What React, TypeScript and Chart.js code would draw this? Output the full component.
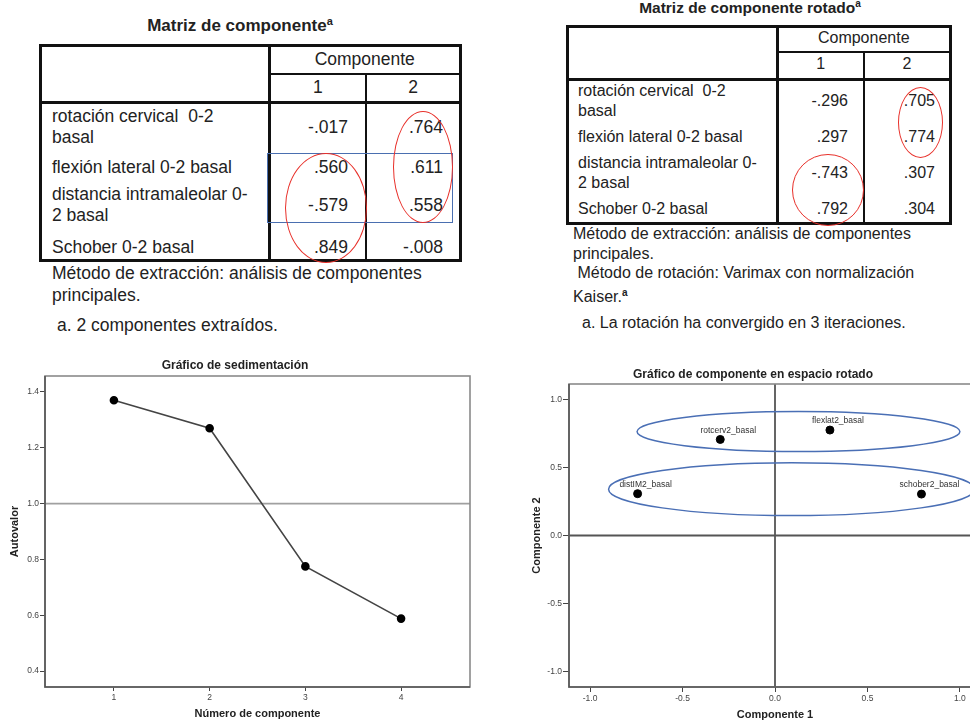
import React, { useEffect, useRef } from "react";
import { Chart, registerables } from "chart.js";

Chart.register(...registerables);

const FONT = '"Liberation Sans", Arial, Helvetica, sans-serif';

// ---------- Tables ----------
const rowLabels = [
  "rotación cervical  0-2\nbasal",
  "flexión lateral 0-2 basal",
  "distancia intramaleolar 0-\n2 basal",
  "Schober 0-2 basal",
];
const componentHeader = "Componente";
const componentNumbersText = ["1", "2"];
const unrotatedComp1 = ["-.017", ".560", "-.579", ".849"];
const unrotatedComp2 = [".764", ".611", ".558", "-.008"];
const rotatedComp1 = ["-.296", ".297", "-.743", ".792"];
const rotatedComp2 = [".705", ".774", ".307", ".304"];

// ---------- Scree plot ----------
const componentNumbers = [1, 2, 3, 4];
const eigenvalues = [1.37, 1.27, 0.775, 0.588];
const screeXTicks = [1, 2, 3, 4];
const screeYTicks = [0.4, 0.6, 0.8, 1.0, 1.2, 1.4];
const kaiserCriterion = 1.0;

// ---------- Rotated component plot ----------
const variableNames = ["rotcerv2_basal", "flexlat2_basal", "distIM2_basal", "schober2_basal"];
const loadingsComp1 = [-0.296, 0.297, -0.743, 0.792];
const loadingsComp2 = [0.705, 0.774, 0.307, 0.304];
const loadingTicks = [-1.0, -0.5, 0.0, 0.5, 1.0];
// hand-drawn grouping ellipses, in data units: [cx, cy, rx, ry]
const groupEllipses = [
  [0.127, 0.763, 0.873, 0.147],
  [0.09, 0.34, 0.99, 0.194],
];

type Geo = {
  left: number; top: number; right: number; bottom: number;
  col1: number; col2: number; hdr1: number; hdr2: number;
  fs: number; lh: number; labelX: number; val1R: number; val2R: number;
  rowCenters: number[]; compY: number; numY: number;
};

const abs = (s: React.CSSProperties): React.CSSProperties => ({ position: "absolute", ...s });

function Line({ x, y, w, h }: { x: number; y: number; w: number; h: number }) {
  return <div style={abs({ left: x, top: y, width: w, height: h, background: "#111" })} />;
}

function Txt({ x, y, fs, lh, text, align = "left", w, bold }: any) {
  const lines = text.split("\n").length;
  const style: React.CSSProperties = abs({
    top: y - (lines * lh) / 2,
    fontSize: fs,
    lineHeight: lh + "px",
    whiteSpace: "pre",
    color: "#222",
    fontWeight: bold ? "bold" : "normal",
  });
  if (align === "right") {
    style.right = 970 - x;
  } else if (align === "center") {
    style.left = x - w / 2;
    style.width = w;
    style.textAlign = "center";
  } else {
    style.left = x;
  }
  return <div style={style}>{text}</div>;
}

function Table({ g, v1, v2 }: { g: Geo; v1: string[]; v2: string[] }) {
  const c1 = (g.col1 + g.col2) / 2;
  const c2 = (g.col2 + g.right) / 2;
  return (
    <>
      <div
        style={abs({
          left: g.left - 1.5, top: g.top - 1.5,
          width: g.right - g.left + 3, height: g.bottom - g.top + 3,
          border: "3px solid #111", boxSizing: "border-box",
        })}
      />
      <Line x={g.col1 - 1.5} y={g.top} w={3} h={g.bottom - g.top} />
      <Line x={g.col2 - 1} y={g.hdr1} w={2} h={g.bottom - g.hdr1} />
      <Line x={g.col1} y={g.hdr1 - 1} w={g.right - g.col1} h={2} />
      <Line x={g.left} y={g.hdr2 - 1.5} w={g.right - g.left} h={3} />
      <Txt x={(g.col1 + g.right) / 2} y={g.compY} fs={g.fs} lh={g.lh} w={g.right - g.col1} align="center" text={componentHeader} />
      <Txt x={c1} y={g.numY} fs={g.fs} lh={g.lh} w={g.col2 - g.col1} align="center" text={componentNumbersText[0]} />
      <Txt x={c2} y={g.numY} fs={g.fs} lh={g.lh} w={g.right - g.col2} align="center" text={componentNumbersText[1]} />
      {rowLabels.map((lab, i) => (
        <React.Fragment key={i}>
          <Txt x={g.labelX} y={g.rowCenters[i]} fs={g.fs} lh={g.lh} text={lab} />
          <Txt x={g.val1R} y={g.rowCenters[i]} fs={g.fs} lh={g.lh} align="right" text={v1[i]} />
          <Txt x={g.val2R} y={g.rowCenters[i]} fs={g.fs} lh={g.lh} align="right" text={v2[i]} />
        </React.Fragment>
      ))}
    </>
  );
}

function Oval({ x1, y1, x2, y2, color }: any) {
  return (
    <div
      style={abs({
        left: x1, top: y1, width: x2 - x1, height: y2 - y1,
        border: `1.5px solid ${color}`, borderRadius: "50%", boxSizing: "border-box",
      })}
    />
  );
}

const leftGeo: Geo = {
  left: 40, top: 45, right: 460, bottom: 260, col1: 269.5, col2: 366, hdr1: 74, hdr2: 102,
  fs: 17.5, lh: 21, labelX: 52, val1R: 348, val2R: 443, rowCenters: [127, 167, 205, 247],
  compY: 59, numY: 87,
};
const rightGeo: Geo = {
  left: 567, top: 26, right: 950, bottom: 223, col1: 777.5, col2: 864, hdr1: 52, hdr2: 79.5,
  fs: 16, lh: 20, labelX: 578, val1R: 848, val2R: 935, rowCenters: [101, 137, 173, 209],
  compY: 38, numY: 64,
};

// ---------- chart helpers ----------
const tickFont = { family: FONT, size: 8.5 };
const axisTitleFont = { family: FONT, size: 11, weight: "bold" as const };
const titleFont = { family: FONT, size: 12, weight: "bold" as const };

const framePlugin = {
  id: "frame",
  afterDraw(chart: any) {
    const { ctx, chartArea: a } = chart;
    ctx.save();
    ctx.strokeStyle = "#8a8a8a";
    ctx.lineWidth = 1.6;
    ctx.strokeRect(a.left, a.top, a.right - a.left, a.bottom - a.top);
    ctx.strokeStyle = "#555";
    ctx.lineWidth = 1.6;
    ctx.beginPath();
    ctx.moveTo(a.left, a.top);
    ctx.lineTo(a.left, a.bottom);
    ctx.lineTo(a.right, a.bottom);
    ctx.stroke();
    ctx.restore();
  },
};

function useChart(ref: React.RefObject<HTMLCanvasElement>, makeConfig: () => any) {
  useEffect(() => {
    if (!ref.current) return;
    const chart = new Chart(ref.current, makeConfig());
    return () => chart.destroy();
  }, []);
}

function ScreePlot() {
  const ref = useRef<HTMLCanvasElement>(null);
  useChart(ref, () => ({
    type: "scatter",
    data: {
      datasets: [
        {
          data: componentNumbers.map((c, i) => ({ x: c, y: eigenvalues[i] })),
          showLine: true,
          borderColor: "#444",
          borderWidth: 1.6,
          pointRadius: 3.5,
          pointBackgroundColor: "#000",
          pointBorderColor: "#000",
        },
      ],
    },
    options: {
      animation: false,
      responsive: false,
      layout: { padding: { left: 0, right: 10, top: 0, bottom: 0 } },
      plugins: {
        legend: { display: false },
        tooltip: { enabled: false },
        title: {
          display: true,
          text: "Gráfico de sedimentación",
          font: titleFont,
          color: "#222",
          padding: { top: 3.8, bottom: 2.8 },
        },
      },
      scales: {
        x: {
          type: "linear",
          min: 0.28,
          max: 4.72,
          afterBuildTicks: (s: any) => { s.ticks = screeXTicks.map((v) => ({ value: v })); },
          afterFit: (s: any) => { s.height = 35; },
          ticks: { font: tickFont, color: "#444", padding: 2, maxRotation: 0, callback: (v: any) => String(v) },
          grid: { drawOnChartArea: false, drawTicks: true, tickLength: 4, color: "#444" },
          border: { display: false },
          title: { display: true, text: "Número de componente", font: axisTitleFont, color: "#222", padding: { top: 0, bottom: 1.4 } },
        },
        y: {
          type: "linear",
          min: 0.343,
          max: 1.457,
          afterBuildTicks: (s: any) => { s.ticks = screeYTicks.map((v) => ({ value: v })); },
          afterFit: (s: any) => { s.width = 45; },
          ticks: { font: tickFont, color: "#444", padding: 1, callback: (v: any) => Number(v).toFixed(1) },
          grid: { drawOnChartArea: false, drawTicks: true, tickLength: 5, color: "#444" },
          border: { display: false },
          title: { display: true, text: "Autovalor", font: axisTitleFont, color: "#222", padding: { top: 8.4, bottom: 0 } },
        },
      },
    },
    plugins: [
      {
        id: "kaiser",
        beforeDatasetsDraw(chart: any) {
          const { ctx, chartArea: a, scales } = chart;
          const y = scales.y.getPixelForValue(kaiserCriterion);
          ctx.save();
          ctx.strokeStyle = "#a0a0a0";
          ctx.lineWidth = 1.8;
          ctx.beginPath();
          ctx.moveTo(a.left, y);
          ctx.lineTo(a.right, y);
          ctx.stroke();
          ctx.restore();
        },
      },
      framePlugin,
    ],
  }));
  return <canvas ref={ref} width={480} height={367} style={abs({ left: 0, top: 355, display: "block" })} />;
}

function LoadingPlot() {
  const ref = useRef<HTMLCanvasElement>(null);
  useChart(ref, () => ({
    type: "scatter",
    data: {
      datasets: [
        {
          data: loadingsComp1.map((x, i) => ({ x, y: loadingsComp2[i] })),
          pointRadius: 4,
          pointBackgroundColor: "#000",
          pointBorderColor: "#000",
        },
      ],
    },
    options: {
      animation: false,
      responsive: false,
      layout: { padding: { left: 45, right: 9, top: 0, bottom: 0 } },
      plugins: {
        legend: { display: false },
        tooltip: { enabled: false },
        title: {
          display: true,
          text: "Gráfico de componente en espacio rotado",
          font: titleFont,
          color: "#222",
          padding: { top: 12.8, bottom: 1.8 },
        },
      },
      scales: {
        x: {
          type: "linear",
          min: -1.114,
          max: 1.114,
          afterBuildTicks: (s: any) => { s.ticks = loadingTicks.map((v) => ({ value: v })); },
          afterFit: (s: any) => { s.height = 35; },
          ticks: { font: tickFont, color: "#444", padding: 2, maxRotation: 0, callback: (v: any) => Number(v).toFixed(1) },
          grid: { drawOnChartArea: false, drawTicks: true, tickLength: 5, color: "#444" },
          border: { display: false },
          title: { display: true, text: "Componente 1", font: axisTitleFont, color: "#222", padding: { top: 0, bottom: 0.4 } },
        },
        y: {
          type: "linear",
          min: -1.112,
          max: 1.112,
          afterBuildTicks: (s: any) => { s.ticks = loadingTicks.map((v) => ({ value: v })); },
          afterFit: (s: any) => { s.width = 44; },
          ticks: { font: tickFont, color: "#444", padding: 1, callback: (v: any) => Number(v).toFixed(1) },
          grid: { drawOnChartArea: false, drawTicks: true, tickLength: 6, color: "#444" },
          border: { display: false },
          title: { display: true, text: "Componente 2", font: axisTitleFont, color: "#222", padding: { top: 5.4, bottom: 0 } },
        },
      },
    },
    plugins: [
      {
        id: "zeroLines",
        beforeDatasetsDraw(chart: any) {
          const { ctx, chartArea: a, scales } = chart;
          const x0 = scales.x.getPixelForValue(0);
          const y0 = scales.y.getPixelForValue(0);
          ctx.save();
          ctx.strokeStyle = "#555";
          ctx.lineWidth = 1.8;
          ctx.beginPath();
          ctx.moveTo(x0, a.top);
          ctx.lineTo(x0, a.bottom);
          ctx.moveTo(a.left, y0);
          ctx.lineTo(a.right, y0);
          ctx.stroke();
          ctx.restore();
        },
      },
      {
        id: "pointLabels",
        afterDatasetsDraw(chart: any) {
          const { ctx, scales } = chart;
          ctx.save();
          ctx.font = `8.5px ${FONT}`;
          ctx.fillStyle = "#333";
          ctx.textAlign = "center";
          ctx.textBaseline = "middle";
          variableNames.forEach((name, i) => {
            const px = scales.x.getPixelForValue(loadingsComp1[i]);
            const py = scales.y.getPixelForValue(loadingsComp2[i]);
            ctx.fillText(name, px + 8, py - 9);
          });
          ctx.restore();
        },
      },
      {
        id: "groupEllipses",
        afterDatasetsDraw(chart: any) {
          const { ctx, scales } = chart;
          ctx.save();
          ctx.strokeStyle = "#4a6fb5";
          ctx.lineWidth = 1.5;
          groupEllipses.forEach(([cx, cy, rx, ry]) => {
            const px = scales.x.getPixelForValue(cx);
            const py = scales.y.getPixelForValue(cy);
            const prx = Math.abs(scales.x.getPixelForValue(cx + rx) - px);
            const pry = Math.abs(scales.y.getPixelForValue(cy + ry) - py);
            ctx.beginPath();
            ctx.ellipse(px, py, prx, pry, 0, 0, Math.PI * 2);
            ctx.stroke();
          });
          ctx.restore();
        },
      },
      framePlugin,
    ],
  }));
  return <canvas ref={ref} width={510} height={367} style={abs({ left: 480, top: 355, display: "block" })} />;
}

export default function App() {
  return (
    <div
      style={{
        position: "fixed", left: 0, top: 0, width: 970, height: 722, overflow: "hidden",
        background: "#fff", fontFamily: FONT, color: "#222",
      }}
    >
      {/* Left table */}
      <div style={abs({ left: 40, width: 400, top: 13, textAlign: "center", fontSize: 17, fontWeight: "bold", lineHeight: "17px", whiteSpace: "nowrap" })}>
        Matriz de componente<sup style={{ fontSize: 11, verticalAlign: "6px" }}>a</sup>
      </div>
      <Table g={leftGeo} v1={unrotatedComp1} v2={unrotatedComp2} />
      <Txt x={52} y={284} fs={17.5} lh={22} text={"Método de extracción: análisis de componentes\nprincipales."} />
      <Txt x={57} y={325} fs={17.5} lh={22} text={"a. 2 componentes extraídos."} />
      <div style={abs({ left: 267, top: 153, width: 186, height: 70, border: "1.5px solid #4a6fb0", boxSizing: "border-box" })} />
      <Oval x1={285} y1={153} x2={367} y2={263} color="#e8302a" />
      <Oval x1={393} y1={111} x2={453} y2={223} color="#e8302a" />

      {/* Right table */}
      <div style={abs({ left: 550, width: 400, top: -4, textAlign: "center", fontSize: 15.5, fontWeight: "bold", lineHeight: "16px", whiteSpace: "nowrap" })}>
        Matriz de componente rotado<sup style={{ fontSize: 10, verticalAlign: "6px" }}>a</sup>
      </div>
      <Table g={rightGeo} v1={rotatedComp1} v2={rotatedComp2} />
      <Txt x={573} y={243.5} fs={16} lh={19.7} text={"Método de extracción: análisis de componentes\nprincipales."} />
      <Txt x={573} y={273} fs={16} lh={19.7} text={" Método de rotación: Varimax con normalización"} align="left" />
      <div style={abs({ left: 573, top: 283, fontSize: 16, lineHeight: "19.7px", whiteSpace: "pre", color: "#222" })}>
        Kaiser.<sup style={{ fontSize: 10, fontWeight: "bold", verticalAlign: "6px" }}>a</sup>
      </div>
      <Txt x={582} y={323} fs={16} lh={20} text={"a. La rotación ha convergido en 3 iteraciones."} />
      <Oval x1={898} y1={87} x2={943} y2={158} color="#e8302a" />
      <Oval x1={792} y1={154} x2={864} y2={226} color="#e8302a" />

      <ScreePlot />
      <LoadingPlot />
    </div>
  );
}
